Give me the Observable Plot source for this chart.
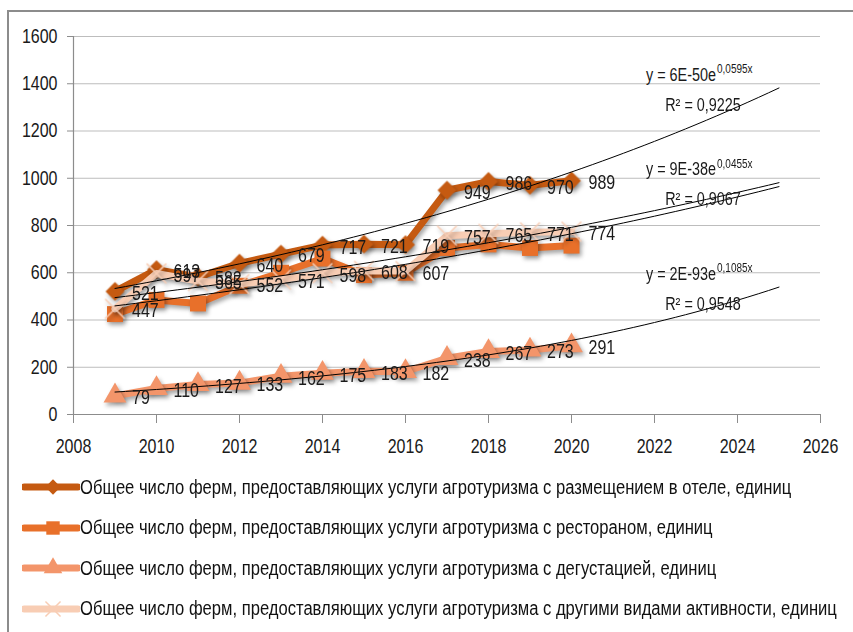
<!DOCTYPE html>
<html><head><meta charset="utf-8">
<script src="https://cdn.jsdelivr.net/npm/d3@7"></script>
<script src="https://cdn.jsdelivr.net/npm/@observablehq/plot@0.6"></script>
<style>
body{margin:0;background:#fff;font-family:"Liberation Sans",Arial,sans-serif;}
#wrap{position:relative;width:853px;height:632px;overflow:hidden;background:#fff;}
#frame{position:absolute;left:7px;top:10px;width:900px;height:700px;border-left:2px solid #8c8c8c;border-top:2px solid #8c8c8c;}
#chart{position:absolute;left:0;top:0;}
#legend{position:absolute;left:0;top:467px;}
.row{display:flex;align-items:center;height:40.5px;font-size:20px;color:#111;white-space:nowrap;}
.row svg{margin-left:22px;flex:none;}
.row span{display:inline-block;transform:scaleX(0.83);transform-origin:0 50%;}
g[aria-label="x-axis tick"], g[aria-label="y-axis tick"]{stroke:#8c8c8c;}
</style></head><body>
<div id="wrap"><div id="frame"></div><div id="chart"></div><div id="legend"></div></div>
<script>
const years = [2009,2010,2011,2012,2013,2014,2015,2016,2017,2018,2019,2020];
const hotel = [521,613,582,640,679,717,721,719,949,986,970,989];
const restaurant = [425,485,470,545,600,660,590,600,705,720,705,715];
const tasting = [79,110,127,133,162,175,183,182,238,267,273,291];
const other = [447,597,565,552,571,598,608,607,757,765,771,774];
const seriesNames = [
  "Общее число ферм, предоставляющих услуги агротуризма с размещением в отеле, единиц",
  "Общее число ферм, предоставляющих услуги агротуризма с рестораном, единиц",
  "Общее число ферм, предоставляющих услуги агротуризма с дегустацией, единиц",
  "Общее число ферм, предоставляющих услуги агротуризма с другими видами активности, единиц"
];
const colors = ["#c55a11","#e8702a","#f3956a","#f8cdb4"];
const symbols = ["diamond2","square","triangle","times"];
const showLabels = [true,false,true,true];
const trendEnd = 2025;
const trendLabels = [
  {series:0, eq:"y = 6E-50e", exp:"0,0595x", r2:"R² = 0,9225"},
  {series:3, eq:"y = 9E-38e", exp:"0,0455x", r2:"R² = 0,9067"},
  {series:2, eq:"y = 2E-93e", exp:"0,1085x", r2:"R² = 0,9548"}
];
const xTicks = [2008,2010,2012,2014,2016,2018,2020,2022,2024,2026];
const yTicks = [0,200,400,600,800,1000,1200,1400,1600];

const allValues = [hotel, restaurant, tasting, other];
const font = '"Liberation Sans",Arial,sans-serif';
const squeeze = 0.8;

function expFit(ys){
  const xm = d3.mean(years), lm = d3.mean(ys, d=>Math.log(d));
  let num=0, den=0;
  years.forEach((x,i)=>{num+=(x-xm)*(Math.log(ys[i])-lm); den+=(x-xm)*(x-xm);});
  const b = num/den;
  return x=>Math.exp(lm + b*(x-xm));
}
const fits = allValues.map(expFit);
const trendXs = d3.range(years[0], trendEnd + 0.001, 0.25);

const marks = [
  Plot.ruleY(yTicks.filter(d=>d>0), {stroke:"#bdbdbd", strokeWidth:1}),
  Plot.ruleX([2008], {stroke:"#8c8c8c", strokeWidth:1.2}),
  Plot.ruleY([0], {stroke:"#8c8c8c", strokeWidth:1.2})
];
allValues.forEach((vals,s)=>{
  const data = years.map((y,i)=>({x:y, v:vals[i]}));
  marks.push(Plot.line(data, {x:"x", y:"v", stroke:colors[s], strokeWidth:7, strokeLinejoin:"round"}));
  if (symbols[s]==="times")
    marks.push(Plot.dot(data, {x:"x", y:"v", symbol:"times", r:9, stroke:colors[s], strokeWidth:1.5}));
  else
    marks.push(Plot.dot(data, {x:"x", y:"v", symbol:symbols[s], r:symbols[s]==="square"?9:8.5, fill:colors[s], stroke:"none"}));
});
fits.forEach(f=>{
  marks.push(Plot.line(trendXs.map(x=>({x, v:f(x)})), {x:"x", y:"v", stroke:"#000", strokeWidth:1}));
});
allValues.forEach((vals,s)=>{
  if(!showLabels[s]) return;
  const data = years.map((y,i)=>({x:y, v:vals[i]}));
  marks.push(Plot.text(data, {x:"x", y:"v", text:d=>String(d.v), textAnchor:"start", dx:17, dy:2, fontSize:20, fill:"#1a1a1a"}));
});
trendLabels.forEach(t=>{
  const p = [{x:trendEnd, v:fits[t.series](trendEnd)}];
  marks.push(Plot.text(p, {x:"x", y:"v", text:()=>t.eq, textAnchor:"end", dx:-63, dy:-13, fontSize:18, fill:"#1a1a1a"}));
  marks.push(Plot.text(p, {x:"x", y:"v", text:()=>t.exp, textAnchor:"start", dx:-62, dy:-19, fontSize:12.5, fill:"#1a1a1a"}));
  marks.push(Plot.text(p, {x:"x", y:"v", text:()=>t.r2, textAnchor:"middle", dx:-76, dy:17, fontSize:18, fill:"#1a1a1a"}));
});

const chart = Plot.plot({
  width:853, height:465,
  marginLeft:73, marginRight:33, marginTop:36, marginBottom:51,
  style:{fontFamily:font, fontSize:"20px", color:"#1a1a1a", background:"transparent", overflow:"visible"},
  x:{domain:[2008,2026], ticks:xTicks, tickFormat:d=>String(d), tickSize:9, tickPadding:15, label:null},
  y:{domain:[0,1600], ticks:yTicks, tickFormat:d=>String(d), tickSize:6, tickPadding:10, label:null},
  marks
});
d3.select(chart).selectAll('g[aria-label="line"][stroke-width="7"], g[aria-label="dot"]')
  .style("filter","drop-shadow(2px 3px 2px rgba(0,0,0,0.35))");
document.getElementById("chart").appendChild(chart);
chart.querySelectorAll("text").forEach(el=>{
  const L = el.getComputedTextLength();
  if (L > 0) { el.setAttribute("textLength", L*squeeze); el.setAttribute("lengthAdjust","spacingAndGlyphs"); }
});

const legend = document.getElementById("legend");
seriesNames.forEach((name,s)=>{
  const row = document.createElement("div");
  row.className = "row";
  const sw = d3.create("svg").attr("width",58).attr("height",24);
  sw.append("line").attr("x1",2).attr("x2",56).attr("y1",12).attr("y2",12)
    .attr("stroke",colors[s]).attr("stroke-width",7).attr("stroke-linecap","round");
  const sym = {diamond2:d3.symbolDiamond2, square:d3.symbolSquare, triangle:d3.symbolTriangle, times:d3.symbolTimes}[symbols[s]];
  const size = symbols[s]==="square" ? 180 : 150;
  const p = sw.append("path").attr("d", d3.symbol(sym, size)()).attr("transform","translate(31,12)");
  if (symbols[s]==="times") p.attr("fill","none").attr("stroke",colors[s]).attr("stroke-width",1.5);
  else p.attr("fill",colors[s]);
  row.appendChild(sw.node());
  const span = document.createElement("span");
  span.textContent = name;
  row.appendChild(span);
  legend.appendChild(row);
});
</script>
</body></html>
